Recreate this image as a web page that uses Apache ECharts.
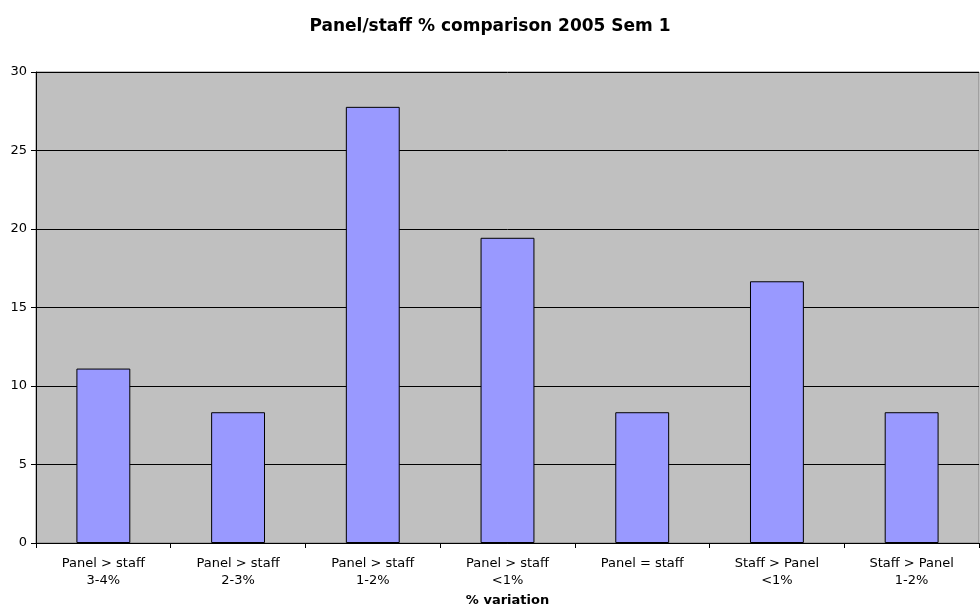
<!DOCTYPE html>
<html><head><meta charset="utf-8">
<script src="https://cdn.jsdelivr.net/npm/echarts@6/dist/echarts.min.js"></script>
<style>html,body{margin:0;padding:0;background:#fff}#c{width:980px;height:612px}</style>
</head><body><div id="c"></div>
<script>
const categories = ["Panel > staff\n3-4%","Panel > staff\n2-3%","Panel > staff\n1-2%","Panel > staff\n<1%","Panel = staff","Staff > Panel\n<1%","Staff > Panel\n1-2%"];
const values = [11.11, 8.33, 27.78, 19.44, 8.33, 16.67, 8.33];
const yTicks = [0, 5, 10, 15, 20, 25, 30];
const titleText = "Panel/staff % comparison 2005 Sem 1";
const xName = "% variation";

const chart = echarts.init(document.getElementById('c'));
chart.setOption({
  animation:false,
  textStyle:{fontFamily:'DejaVu Sans'},
  title:{text:titleText,left:'center',top:13,textStyle:{fontFamily:'DejaVu Sans',fontSize:17,fontWeight:'bold',color:'#000'}},
  grid:{left:36,right:1,top:72,bottom:69,containLabel:false,outerBoundsMode:'none',show:true,backgroundColor:'#C0C0C0',borderColor:'#808080',borderWidth:1},
  xAxis:{type:'category',data:categories,name:xName,nameLocation:'middle',nameGap:51,
    nameTextStyle:{fontFamily:'DejaVu Sans',fontSize:13,fontWeight:'bold',color:'#000'},
    axisLine:{lineStyle:{color:'#000',width:1}},
    axisTick:{show:true,alignWithLabel:false,length:5,lineStyle:{color:'#000'}},
    axisLabel:{fontFamily:'DejaVu Sans',fontSize:13,color:'#000',margin:12,lineHeight:17,interval:0}},
  yAxis:{type:'value',min:yTicks[0],max:yTicks[yTicks.length-1],interval:5,
    axisLine:{show:true,lineStyle:{color:'#000'}},
    axisTick:{show:true,length:5,lineStyle:{color:'#000'}},
    axisLabel:{fontFamily:'DejaVu Sans',fontSize:13,color:'#000',margin:9},
    splitLine:{lineStyle:{color:'#000',width:1}}},
  series:[{type:'bar',data:values,barCategoryGap:'60%',
    itemStyle:{color:'#9999FF',borderColor:'#000',borderWidth:1}}]
});
</script></body></html>
